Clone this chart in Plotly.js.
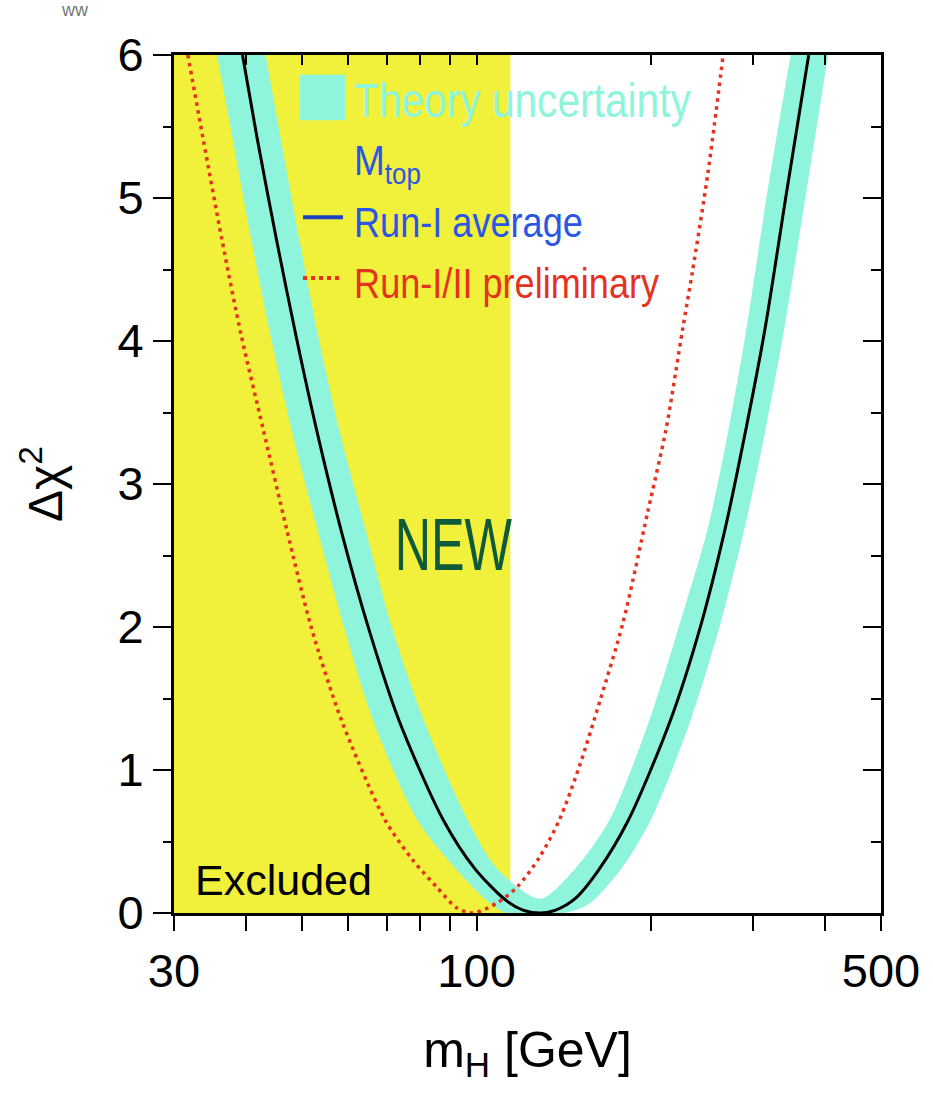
<!DOCTYPE html>
<html>
<head>
<meta charset="utf-8">
<script src="https://cdn.plot.ly/plotly-3.0.1.min.js"></script>
<style>html,body{margin:0;padding:0;background:#fff;}#chart{width:933px;height:1093px;}</style>
</head>
<body>
<div id="chart"></div>
<script>
// ---- data ----
const excludedLimit = 114.4;          // GeV, LEP direct-search limit
const xMajorTicks = [30, 100, 500];
const xMinorTicks = [40, 50, 60, 70, 80, 90, 200, 300, 400];
const xTickLabels = ['30', '100', '500'];

// M_top Run-I average (black solid)
const runIMass  = [39.4, 41.8, 45.1, 48.9, 52.9, 58.3, 65.2, 73.4, 87.6, 99.3, 112.3, 120.3, 128.7, 137.0, 148.0, 162.5, 183.0, 216.4, 244.0, 269.0, 292.0, 315.0, 344.0, 375.0];
const runIDchi2 = [6.0, 5.41, 4.71, 4.01, 3.38, 2.68, 1.98, 1.35, 0.65, 0.31, 0.09, 0.02, 0.0, 0.02, 0.10, 0.30, 0.65, 1.35, 2.01, 2.69, 3.38, 4.08, 5.06, 6.0];

// M_top Run-I/II preliminary (red dotted)
const prelimMass  = [31.7, 33.7, 36.3, 39.2, 42.8, 47.0, 51.7, 58.4, 69.5, 77.6, 85.4, 92.5, 98.7, 108.5, 117.4, 128.5, 139.0, 150.4, 163.6, 179.1, 197.5, 212.5, 227.0, 236.0, 251.0, 266.6];
const prelimDchi2 = [6.0, 5.41, 4.71, 4.04, 3.38, 2.68, 2.01, 1.35, 0.65, 0.37, 0.18, 0.035, 0.0, 0.07, 0.18, 0.39, 0.65, 1.02, 1.49, 2.03, 2.80, 3.38, 4.08, 4.48, 5.17, 5.99];

// Theory uncertainty band: lower (outer) and upper (inner) envelopes
const bandOuterMass  = [35.6, 37.9, 40.8, 44.2, 47.9, 53.1, 59.2, 66.2, 79.0, 92.0, 104.0, 112.5, 128.7, 141.6, 156.0, 178.0, 200.0, 234.5, 263.4, 290.5, 315.8, 340.0, 372.0, 405.0];
const bandOuterDchi2 = [6.0, 5.41, 4.71, 4.01, 3.38, 2.68, 1.98, 1.35, 0.65, 0.31, 0.09, 0.0, 0.0, 0.0, 0.06, 0.31, 0.65, 1.35, 2.01, 2.69, 3.38, 4.08, 5.06, 6.0];
const bandInnerMass  = [43.2, 45.9, 49.4, 53.4, 57.9, 64.3, 71.6, 81.0, 96.5, 108.5, 128.7, 148.0, 169.7, 199.0, 224.0, 251.0, 272.5, 292.5, 318.6, 349.0];
const bandInnerDchi2 = [6.0, 5.41, 4.71, 4.01, 3.38, 2.68, 1.98, 1.35, 0.65, 0.31, 0.10, 0.31, 0.65, 1.35, 2.01, 2.69, 3.38, 4.08, 5.06, 6.0];

// ---- styles ----
const YELLOW = '#f1f03a';
const CYAN = '#8ef5dc';
const BLUE = '#2b56e4';
const RED = '#e5321f';
const SANS = '"Liberation Sans", Arial, sans-serif';
const SMOOTH = 0.8;

const traces = [
  {x: bandOuterMass, y: bandOuterDchi2, mode: 'lines', line: {width: 0, shape: 'spline', smoothing: SMOOTH}, hoverinfo: 'skip', showlegend: false},
  {x: bandInnerMass, y: bandInnerDchi2, mode: 'lines', line: {width: 0, shape: 'spline', smoothing: SMOOTH}, fill: 'tonexty', fillcolor: CYAN, hoverinfo: 'skip', showlegend: false},
  {x: prelimMass, y: prelimDchi2, mode: 'lines', line: {color: RED, width: 3.5, dash: '3.5px,4.5px', shape: 'spline', smoothing: SMOOTH}, showlegend: false},
  {x: runIMass, y: runIDchi2, mode: 'lines', line: {color: '#000', width: 3, shape: 'spline', smoothing: SMOOTH}, showlegend: false},
  {x: [excludedLimit], y: [3], xaxis: 'x2', yaxis: 'y2', mode: 'markers', marker: {opacity: 0}, hoverinfo: 'skip', showlegend: false}
];

const xRange = [Math.log10(30), Math.log10(500)];

const layout = {
  width: 933, height: 1093,
  margin: {l: 174, r: 52, t: 55, b: 180},
  paper_bgcolor: '#fff', plot_bgcolor: '#fff',
  showlegend: false,
  font: {family: SANS, color: '#000'},
  xaxis: {
    type: 'log', range: xRange, tickmode: 'array', tickvals: xMajorTicks, ticktext: xTickLabels,
    ticks: 'outside', ticklen: 15, tickwidth: 2, tickcolor: '#000',
    minor: {tickmode: 'array', tickvals: xMinorTicks, ticks: 'outside', ticklen: 15, tickwidth: 2, tickcolor: '#000', showgrid: false},
    showline: true, linewidth: 3, linecolor: '#000', mirror: true,
    showgrid: false, zeroline: false,
    tickfont: {size: 47, family: SANS, color: '#000'},
    title: {text: 'm<sub>H</sub> [GeV]', font: {size: 50, family: SANS, color: '#000'}, standoff: 36}
  },
  yaxis: {
    range: [0, 6], tickmode: 'linear', tick0: 0, dtick: 1,
    ticks: 'outside', ticklen: 18, tickwidth: 2, tickcolor: '#000',
    minor: {dtick: 0.5, ticks: 'outside', ticklen: 8, tickwidth: 2, tickcolor: '#000', showgrid: false},
    showline: true, linewidth: 3, linecolor: '#000', mirror: true,
    showgrid: false, zeroline: false,
    tickfont: {size: 47, family: SANS, color: '#000'},
    title: {text: 'Δχ<sup>2</sup>', font: {size: 48, family: SANS, color: '#000'}, standoff: 40}
  },
  xaxis2: {
    type: 'log', range: xRange, overlaying: 'x', anchor: 'y2', side: 'top',
    tickmode: 'array', tickvals: xMajorTicks.concat(xMinorTicks),
    ticks: 'inside', ticklen: 10, tickwidth: 2, tickcolor: '#000',
    showline: false, showgrid: false, zeroline: false, showticklabels: false
  },
  yaxis2: {
    range: [0, 6], overlaying: 'y', anchor: 'x2', side: 'right',
    tickmode: 'linear', tick0: 0, dtick: 1,
    ticks: 'inside', ticklen: 18, tickwidth: 2, tickcolor: '#000',
    minor: {dtick: 0.5, ticks: 'inside', ticklen: 10, tickwidth: 2, tickcolor: '#000', showgrid: false},
    showline: false, showgrid: false, zeroline: false, showticklabels: false
  },
  shapes: [
    {type: 'rect', xref: 'x', yref: 'paper', x0: 30, x1: excludedLimit, y0: 0, y1: 1, fillcolor: YELLOW, line: {width: 0}, layer: 'below'},
    // legend symbols
    {type: 'rect', xref: 'paper', yref: 'paper', x0: 0.178, x1: 0.242, y0: 0.924, y1: 0.977, fillcolor: CYAN, line: {width: 0}},
    {type: 'line', xref: 'paper', yref: 'paper', x0: 0.1825, x1: 0.239, y0: 0.811, y1: 0.811, line: {color: '#1f3fc0', width: 4}},
    {type: 'line', xref: 'paper', yref: 'paper', x0: 0.1825, x1: 0.239, y0: 0.740, y1: 0.740, line: {color: RED, width: 4, dash: 'dot'}}
  ],
  annotations: [
    {text: 'Theory uncertainty', xref: 'paper', yref: 'paper', x: 0.252, y: 0.9476, xanchor: 'left', yanchor: 'middle', showarrow: false, font: {family: SANS, size: 49, color: CYAN}},
    {text: 'M<sub>top</sub>', xref: 'paper', yref: 'paper', x: 0.252, y: 0.874, xanchor: 'left', yanchor: 'middle', showarrow: false, font: {family: SANS, size: 43, color: BLUE}},
    {text: 'Run-I average', xref: 'paper', yref: 'paper', x: 0.252, y: 0.805, xanchor: 'left', yanchor: 'middle', showarrow: false, font: {family: SANS, size: 42, color: BLUE}},
    {text: 'Run-I/II preliminary', xref: 'paper', yref: 'paper', x: 0.252, y: 0.734, xanchor: 'left', yanchor: 'middle', showarrow: false, font: {family: SANS, size: 42, color: RED}},
    {text: 'NEW', xref: 'paper', yref: 'paper', x: 0.395, y: 0.429, xanchor: 'center', yanchor: 'middle', showarrow: false, font: {family: SANS, size: 74, color: '#0f5a3a'}},
    {text: 'Excluded', xref: 'paper', yref: 'paper', x: 0.027, y: 0.038, xanchor: 'left', yanchor: 'middle', showarrow: false, font: {family: SANS, size: 43, color: '#000'}},
    {text: 'ww', xref: 'paper', yref: 'paper', x: -0.14, y: 1.052, xanchor: 'center', yanchor: 'middle', showarrow: false, font: {family: SANS, size: 18, color: '#777'}}
  ]
};

// horizontal condensing of the narrow-font labels (annotation index -> [scale, origin])
const condense = {0: [0.83, 'left center'], 1: [0.86, 'left center'], 2: [0.86, 'left center'], 3: [0.86, 'left center'], 4: [0.68, 'center']};

Plotly.newPlot('chart', traces, layout, {displayModeBar: false, staticPlot: true}).then(gd => {
  gd.querySelectorAll('.annotation').forEach(g => {
    const idx = g.getAttribute('data-index');
    const c = condense[idx];
    if (!c) return;
    const t = g.querySelector('text.annotation-text');
    if (!t) return;
    t.style.transformBox = 'fill-box';
    t.style.transformOrigin = c[1];
    t.style.transform = 'scaleX(' + c[0] + ')';
  });
});
</script>
</body>
</html>
